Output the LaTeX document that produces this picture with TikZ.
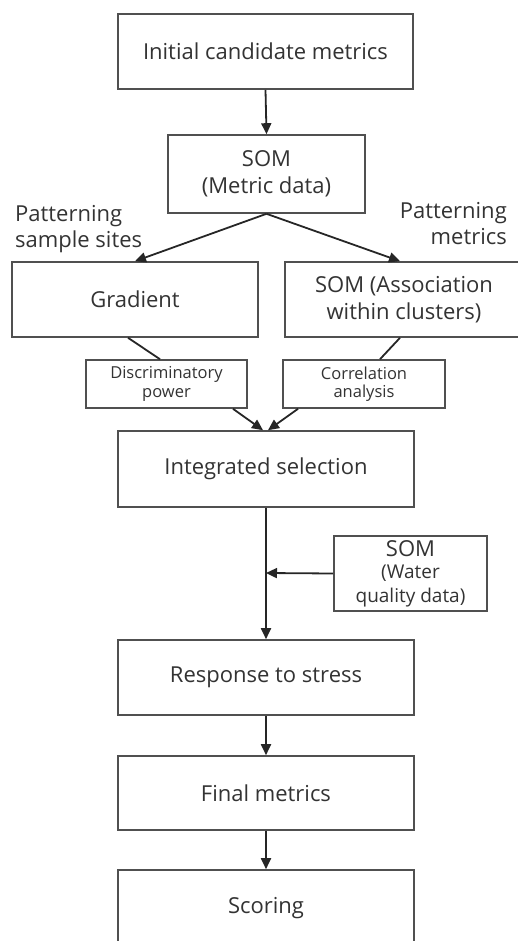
\documentclass[tikz,border=0pt]{standalone}
\usepackage{fontspec}
\setmainfont{Open Sans}
\usetikzlibrary{arrows.meta,calc}
\definecolor{txt}{HTML}{333333}
\definecolor{ln}{HTML}{262626}
\definecolor{bd}{HTML}{505050}
\newcommand\wfnt{\fontsize{19}{22}\selectfont}
\begin{document}
\begin{tikzpicture}[x=1pt,y=-1pt,
  box/.style={draw=bd,line width=1.6pt,fill=white,text=txt,inner sep=0pt,align=center,font=\fontsize{22}{27}\selectfont},
  sbox/.style={box,font=\fontsize{16.5}{18.5}\selectfont},
  lbl/.style={text=txt,inner sep=0pt,font=\fontsize{22}{26}\selectfont},
  conn/.style={draw=ln,line width=1.8pt},
  arr/.style={conn,-{Triangle[length=11pt,width=10pt]}}]
\useasboundingbox (0,0) rectangle (518,941);
\node[box,minimum width=295pt,minimum height=75pt] (b1) at (265.5,51.5) {Initial candidate metrics};
\node[box,minimum width=197pt,minimum height=78pt] (b2) at (266.5,174) {SOM\\(Metric data)};
\node[box,minimum width=246pt,minimum height=75pt] (grad) at (135,299.5) {Gradient};
\node[box,minimum width=238pt,minimum height=75pt] (assoc) at (404,299.5) {SOM (Association\\within clusters)};
\node[sbox,minimum width=161pt,minimum height=48pt] (disc) at (166.5,384) {Discriminatory\\power};
\node[sbox,minimum width=162pt,minimum height=48pt] (corr) at (364,384) {Correlation\\analysis};
\node[box,minimum width=296pt,minimum height=76pt] (integ) at (266,469) {Integrated selection};
\node[box,minimum width=153pt,minimum height=75pt] (water) at (410.5,573.5) {SOM\\[-5pt]{\wfnt (Water}\\[-3pt]{\wfnt quality data)}};
\node[box,minimum width=296pt,minimum height=75pt] (resp) at (266,677.5) {Response to stress};
\node[box,minimum width=296pt,minimum height=74pt] (final) at (266,793) {Final metrics};
\node[box,minimum width=296pt,minimum height=76pt] (score) at (266,908) {Scoring};
\node[lbl,anchor=north west,align=left] (lsites) at (15,205) {Patterning\\sample sites};
\node[lbl,anchor=north east,align=right] (lmetrics) at (507,202) {Patterning\\metrics};
\coordinate (join) at (266,573);
\draw[arr] (b1.south) -- (b2.north);
\draw[arr] (b2.south) -- (grad.north);
\draw[arr] (b2.south) -- ($(assoc.north)+(-4,0)$);
\draw[conn] ($(grad.south)+(-7,0)$) -- ($(disc.north)+(-6.5,0)$);
\draw[conn] ($(assoc.south)+(-4,0)$) -- ($(corr.north)+(16,0)$);
\draw[arr] ($(disc.south)+(66.5,0)$) -- ($(integ.north)+(-3,0)$);
\draw[arr] ($(corr.south)+(-66,0)$) -- ($(integ.north)+(2,0)$);
\draw[arr] (integ.south) -- (resp.north);
\draw[arr] (water.west) -- (join);
\draw[arr] (resp.south) -- (final.north);
\draw[arr] (final.south) -- (score.north);
\end{tikzpicture}
\end{document}
